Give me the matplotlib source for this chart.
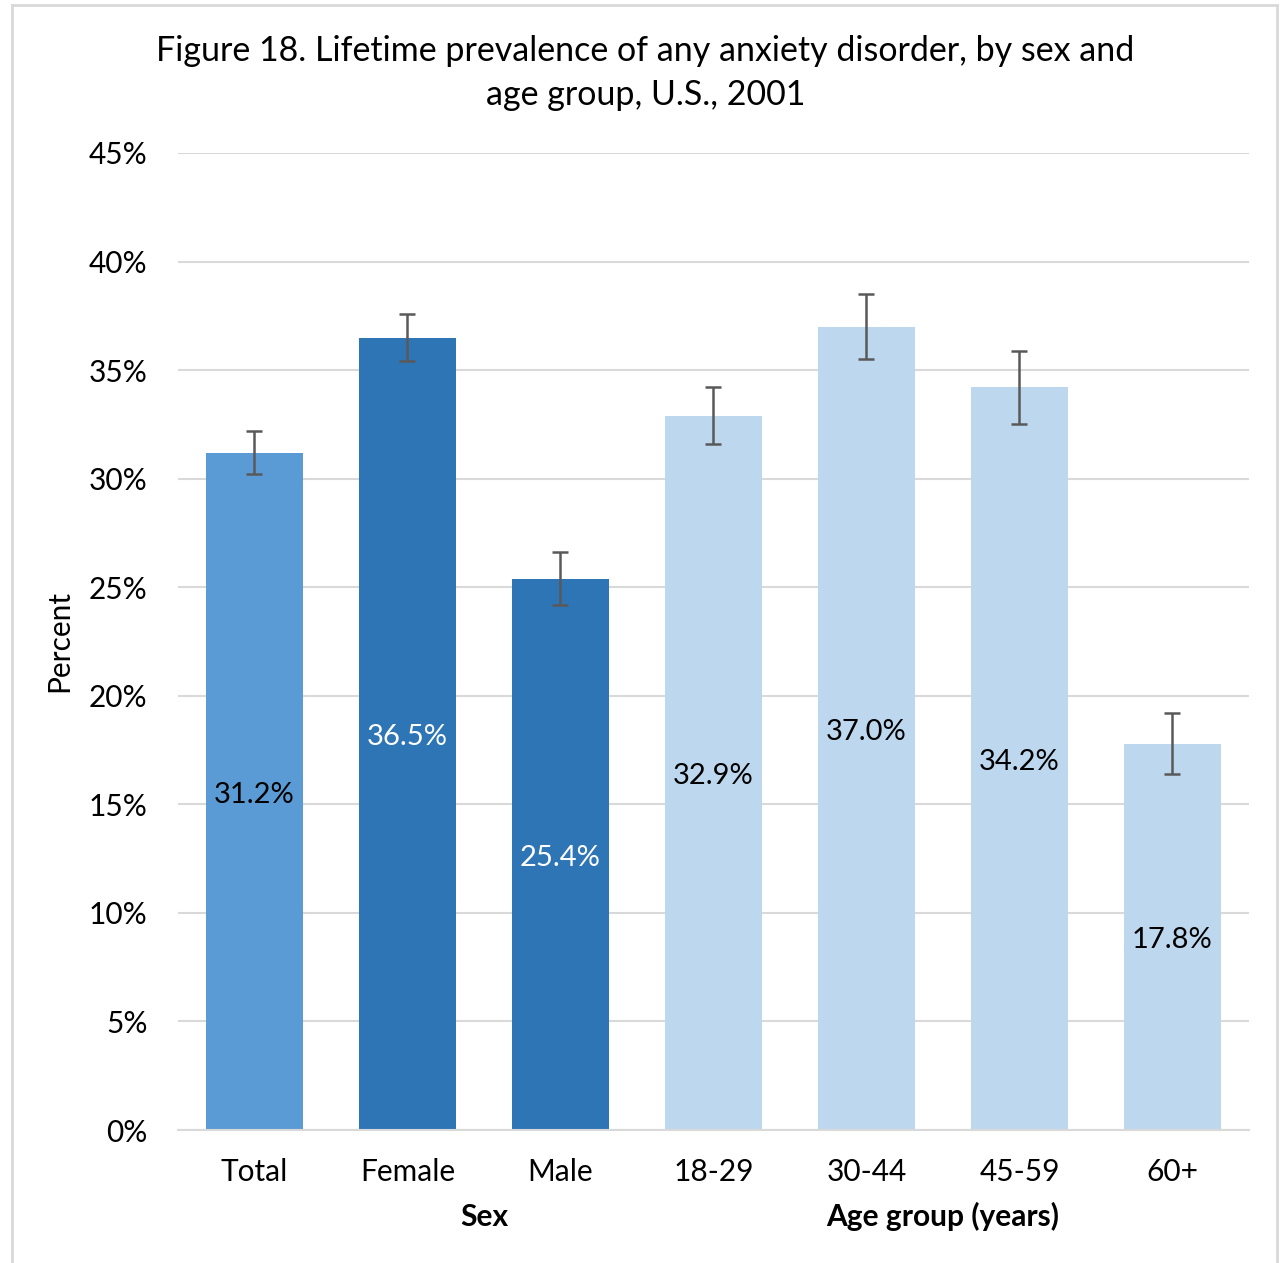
import matplotlib.pyplot as plt
from matplotlib.lines import Line2D
import numpy as np

# ข้อมูล
categories = ["Total", "Female", "Male", "18-29", "30-44", "45-59", "60+"]
values = [31.2, 36.5, 25.4, 32.9, 37.0, 34.2, 17.8]
errors = [1.0, 1.1, 1.2, 1.3, 1.5, 1.7, 1.4]
bar_colors = ["#5B9BD5", "#2E75B6", "#2E75B6", "#BDD7EE", "#BDD7EE", "#BDD7EE", "#BDD7EE"]
label_colors = ["black", "white", "white", "black", "black", "black", "black"]
yticks = [0, 5, 10, 15, 20, 25, 30, 35, 40, 45]
groups = [("Sex", 1.5), ("Age group (years)", 4.5)]

plt.rcParams['font.family'] = ['Lato', 'DejaVu Sans']

fig = plt.figure(figsize=(12.83, 12.63), dpi=100)
ax = fig.add_axes([0.1387, 0.1053, 0.8348, 0.7736])

x = np.arange(len(categories))
ax.bar(x, values, width=0.634, color=bar_colors, zorder=2)
ax.errorbar(x, values, yerr=errors, fmt='none', ecolor='#595959',
            elinewidth=1.8, capsize=6, capthick=1.8, zorder=3)

# ป้ายค่าตรงกลางแท่ง
for xi, v, c in zip(x, values, label_colors):
    ax.text(xi, v / 2 - 0.15, f"{v:.1f}%", ha='center', va='center', fontsize=21, color=c, zorder=4)

ax.set_xlim(-0.5, len(categories) - 0.5)
ax.set_ylim(0, 45)
ax.set_yticks(yticks)
ax.set_yticklabels([f"{t}%" for t in yticks], fontsize=21.5)
ax.set_xticks(x)
ax.set_xticklabels(categories, fontsize=21.5)
ax.tick_params(axis='both', length=0)
ax.tick_params(axis='x', pad=20)
ax.tick_params(axis='y', pad=22)
ax.grid(axis='y', color='#D9D9D9', linewidth=1.5, zorder=0)
ax.set_axisbelow(True)
for s in ['top', 'right', 'left']:
    ax.spines[s].set_visible(False)
ax.spines['bottom'].set_color('#D9D9D9')
ax.spines['bottom'].set_linewidth(1.5)

ax.set_ylabel("Percent", fontsize=21.5, labelpad=11)

for name, pos in groups:
    ax.text(pos, -4.0, name, ha='center', va='center', fontsize=21.5, fontweight='bold',
            transform=ax.transData)

fig.text(0.503, 0.942, "Figure 18. Lifetime prevalence of any anxiety disorder, by sex and\nage group, U.S., 2001",
         ha='center', va='center', fontsize=24.5, linespacing=1.45)

# กรอบรอบรูป
W, H = 1283, 1263
border = dict(color='#D9D9D9', linewidth=2)
fig.add_artist(Line2D([12 / W, 12 / W], [0, 1 - 5 / H], transform=fig.transFigure, **border))
fig.add_artist(Line2D([1277 / W, 1277 / W], [0, 1 - 5 / H], transform=fig.transFigure, **border))
fig.add_artist(Line2D([12 / W, 1277 / W], [1 - 5 / H, 1 - 5 / H], transform=fig.transFigure, **border))

fig.savefig("out.png", dpi=100)
